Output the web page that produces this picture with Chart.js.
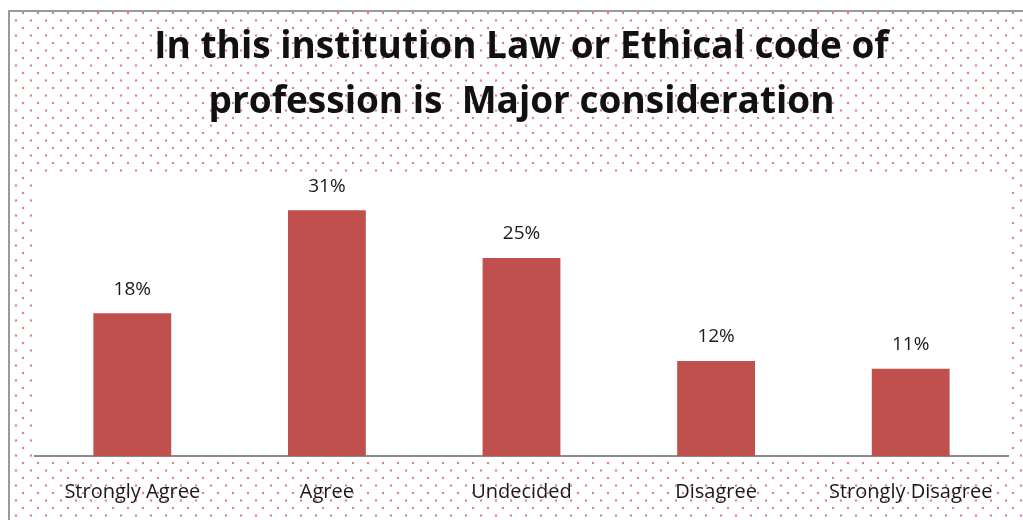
<!DOCTYPE html>
<html>
<head>
<meta charset="utf-8">
<script src="https://cdn.jsdelivr.net/npm/chart.js@4.4.1/dist/chart.umd.min.js"></script>
<style>
    html, body { margin: 0; padding: 0; background: #fff; }
    #wrap { width: 1023px; height: 520px; position: relative; }
</style>
</head>
<body>
<div id="wrap"><canvas id="chart"></canvas></div>
<script>
const categories = ["Strongly Agree", "Agree", "Undecided", "Disagree", "Strongly Disagree"]
const percentValues = [18, 31, 25, 12, 11]
const titleLines = ["In this institution Law or Ethical code of", "profession is  Major consideration"]

const barColor = "#C0504D"
const textColor = "#1a1a1a"

// dotted background tile, staggered rows
const makeDotPattern = (ctx) => {
    const tile = document.createElement("canvas")
    tile.width = 15
    tile.height = 15
    const t = tile.getContext("2d")
    t.fillStyle = "rgba(214, 100, 100, 0.12)"
    t.fillRect(6.5, 11.5, 3, 3)
    t.fillRect(-0.5, 4, 3, 3)
    t.fillRect(14.5, 4, 3, 3)
    t.fillStyle = "rgba(210, 90, 90, 0.7)"
    t.fillRect(7, 12, 2, 2)
    t.fillRect(0, 4.5, 2, 2)
    return ctx.createPattern(tile, "repeat")
}

const backgroundPlugin = {
    id: "dottedBackground",
    beforeDraw(chart) {
        const { ctx, width, height, chartArea } = chart
        ctx.save()
        ctx.fillStyle = "#fff"
        ctx.fillRect(0, 0, width, height)
        ctx.fillStyle = makeDotPattern(ctx)
        ctx.fillRect(10, 12, width - 10, height - 12)
        // plot area is plain white
        ctx.fillStyle = "#fff"
        ctx.fillRect(chartArea.left - 2, chartArea.top, chartArea.right - chartArea.left + 4, chartArea.bottom - chartArea.top)
        // outer border (left and top)
        ctx.fillStyle = "#9a9a9a"
        ctx.fillRect(8, 10, 2, height - 10)
        ctx.fillRect(8, 10, width - 8, 2)
        ctx.restore()
    }
}

const valueLabelPlugin = {
    id: "valueLabels",
    afterDatasetsDraw(chart) {
        const { ctx } = chart
        const meta = chart.getDatasetMeta(0)
        ctx.save()
        ctx.font = "19px 'Open Sans'"
        ctx.fillStyle = textColor
        ctx.textAlign = "center"
        ctx.textBaseline = "middle"
        meta.data.forEach((bar, i) => {
            ctx.fillText(percentValues[i] + "%", bar.x, bar.y - 24)
        })
        ctx.restore()
    }
}

const ctx = document.getElementById("chart").getContext("2d")

new Chart(ctx, {
    type: "bar",
    data: {
        labels: categories,
        datasets: [{
            data: percentValues,
            backgroundColor: barColor,
            borderWidth: 0,
            categoryPercentage: 1,
            barPercentage: 0.4
        }]
    },
    options: {
        responsive: true,
        maintainAspectRatio: false,
        animation: false,
        layout: { padding: { top: 0, left: 35, right: 15, bottom: 0 } },
        plugins: {
            legend: { display: false },
            tooltip: { enabled: false },
            title: {
                display: true,
                text: titleLines,
                color: "#111",
                font: { family: "'Open Sans'", size: 37, weight: "bold", lineHeight: 1.49 },
                padding: { top: 20, bottom: 46 }
            }
        },
        scales: {
            x: {
                grid: { display: false, drawTicks: false },
                border: { display: true, color: "#8c8c8c", width: 2 },
                ticks: {
                    color: textColor,
                    font: { family: "'Open Sans'", size: 20 },
                    padding: 24,
                    maxRotation: 0
                },
                afterFit(scale) {
                    scale.height = 64
                }
            },
            y: {
                display: false,
                min: 0,
                max: 35.3
            }
        }
    },
    plugins: [backgroundPlugin, valueLabelPlugin]
})
</script>
</body>
</html>
